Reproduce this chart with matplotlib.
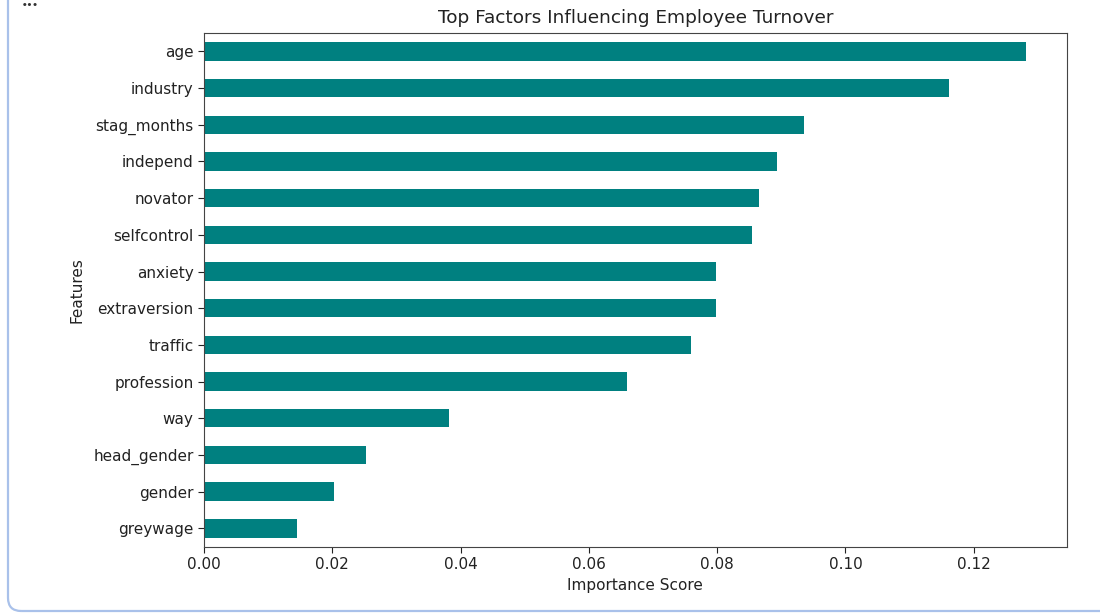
import matplotlib
matplotlib.use("Agg")
import matplotlib.pyplot as plt
from matplotlib.patches import FancyBboxPatch
import numpy as np

features = ["greywage", "gender", "head_gender", "way", "profession", "traffic",
            "extraversion", "anxiety", "selfcontrol", "novator", "independ",
            "stag_months", "industry", "age"]
importance = [0.0145, 0.0202, 0.0252, 0.0382, 0.0659, 0.0759,
              0.0798, 0.0799, 0.0855, 0.0866, 0.0893,
              0.0935, 0.1161, 0.1281]
xticks = [0.00, 0.02, 0.04, 0.06, 0.08, 0.10, 0.12]
title = "Top Factors Influencing Employee Turnover"
xlabel = "Importance Score"
ylabel = "Features"

W, H = 1100, 615
fig = plt.figure(figsize=(W / 100, H / 100), dpi=100)
fig.patch.set_facecolor("white")

# screenshot frame on the left
frame = FancyBboxPatch((8 / W, 4 / H), 1.5, 2.0, boxstyle="round,pad=0,rounding_size=0.012",
                       transform=fig.transFigure, fill=False, edgecolor="#a9c1ea",
                       linewidth=1.6, mutation_aspect=W / H)
fig.patches.append(frame)
fig.text(30 / W, 1 - 6 / H, "\u2022\u2022\u2022", fontsize=6.5, color="#333333",
         ha="center", va="center", fontweight="bold")

left, right, top, bottom = 204 / W, 1066.7 / W, 1 - 33 / H, 1 - 546.7 / H
ax = fig.add_axes([left, bottom, right - left, top - bottom])

y = np.arange(len(features))
ax.barh(y, importance, height=0.5, color="teal")
ax.set_ylim(-0.5, len(features) - 0.5)
ax.set_xlim(0, max(importance) * 1.05)
ax.set_yticks(y)
ax.set_yticklabels(features)
ax.set_xticks(xticks)
ax.set_xticklabels([f"{v:.2f}" for v in xticks])

fs = 11
ax.tick_params(labelsize=fs, colors="#222222", length=4)
ax.set_title(title, fontsize=13.3, color="#222222", pad=7)
ax.set_xlabel(xlabel, fontsize=fs, color="#222222", labelpad=4)
ax.set_ylabel(ylabel, fontsize=fs, color="#222222", labelpad=6)
for s in ax.spines.values():
    s.set_color("#444444")

fig.savefig("out.png", dpi=100)
